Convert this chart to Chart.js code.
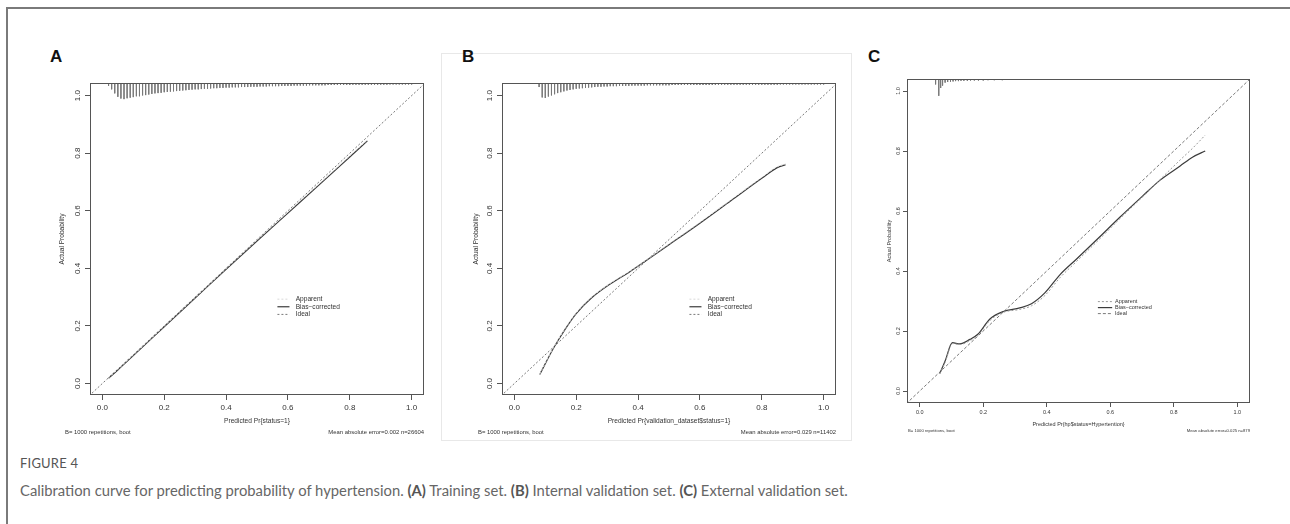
<!DOCTYPE html>
<html>
<head>
<meta charset="utf-8">
<script src="https://cdn.jsdelivr.net/npm/chart.js@4.4.1/dist/chart.umd.min.js"></script>
<style>
  html, body { margin: 0; padding: 0; background: #fff; }
  body { width: 1290px; height: 524px; position: relative; overflow: hidden; }
  #frame { position: absolute; left: 6px; top: 7px; width: 1300px; height: 540px; border: 2px solid #7a7a7a; box-sizing: border-box; }
  #boxB { position: absolute; left: 441px; top: 53px; width: 411px; height: 388px; border: 1px solid #e8e8e8; box-sizing: border-box; }
  canvas { position: absolute; }
  .letter { position: absolute; font: bold 17px "Liberation Sans", Arial, sans-serif; color: #111; }
  #fig { position: absolute; left: 20px; top: 455px; font: 13px Lato, sans-serif; color: #555; letter-spacing: 0.2px; }
  #cap { position: absolute; left: 20px; top: 481px; font: 14.8px Lato, sans-serif; color: #666; white-space: nowrap; }
  #cap b { color: #555; }
</style>
</head>
<body>
<div id="frame"></div>
<div id="boxB"></div>
<div class="letter" style="left:50px;top:47px">A</div>
<div class="letter" style="left:462px;top:47px">B</div>
<div class="letter" style="left:868px;top:47px">C</div>
<canvas id="cA" width="420" height="385" style="left:20px;top:60px"></canvas>
<canvas id="cB" width="405" height="385" style="left:445px;top:60px"></canvas>
<canvas id="cC" width="400" height="385" style="left:865px;top:60px"></canvas>
<div id="fig">FIGURE 4</div>
<div id="cap">Calibration curve for predicting probability of hypertension. <b>(A)</b> Training set. <b>(B)</b> Internal validation set. <b>(C)</b> External validation set.</div>

<script>
// axis ticks (both axes)
const tickVals = [0, 0.2, 0.4, 0.6, 0.8, 1.0];
const idealX = [-0.1, 1.1];

// A: training set
const aPredX = [0.02, 0.05, 0.10, 0.20, 0.30, 0.40, 0.50, 0.60, 0.70, 0.80, 0.857];
const aBias  = [0.018, 0.047, 0.097, 0.197, 0.297, 0.397, 0.495, 0.592, 0.689, 0.787, 0.843];
const aAppar = [0.020, 0.049, 0.099, 0.199, 0.299, 0.399, 0.498, 0.596, 0.693, 0.791, 0.846];
const aRugX = [0.02,0.03,0.04,0.05,0.06,0.07,0.08,0.09,0.10,0.11,0.12,0.13,0.14,0.15,0.16,0.17,0.18,0.19,0.20,
  0.21,0.22,0.23,0.24,0.25,0.26,0.27,0.28,0.29,0.30,0.31,0.32,0.33,0.34,0.35,0.36,0.37,0.38,0.39,0.40,
  0.41,0.42,0.43,0.44,0.45,0.46,0.47,0.48,0.49,0.50,0.51,0.52,0.53,0.54,0.55,0.56,0.57,0.58,0.59,0.60,
  0.61,0.62,0.63,0.64,0.65,0.66,0.67,0.68,0.69,0.70,0.71,0.72,0.73,0.74,0.75,0.76,0.77,0.78,0.79,0.80,
  0.81,0.82,0.83,0.84,0.85,0.86,0.87,0.88,0.89,0.90,0.91,0.92,0.93,0.94,0.95,0.96,0.97,0.98,0.99,1.00];
const aRugH = [0.010,0.022,0.036,0.048,0.054,0.056,0.053,0.051,0.049,0.046,0.046,0.043,0.042,0.040,0.038,0.036,0.035,0.034,0.032,
  0.031,0.030,0.029,0.028,0.027,0.026,0.025,0.024,0.023,0.022,0.022,0.021,0.020,0.020,0.019,0.018,0.018,0.017,0.017,0.016,
  0.016,0.015,0.015,0.015,0.014,0.014,0.014,0.013,0.013,0.013,0.012,0.012,0.012,0.011,0.011,0.011,0.011,0.010,0.010,0.010,
  0.010,0.009,0.009,0.009,0.009,0.009,0.008,0.008,0.008,0.008,0.008,0.008,0.007,0.007,0.007,0.007,0.007,0.007,0.007,0.007,
  0.006,0.006,0.006,0.006,0.006,0.006,0.006,0.006,0.006,0.006,0.006,0.006,0.005,0.005,0.005,0.005,0.005,0.005,0.005,0.005];

// B: internal validation set
const bPredX = [0.082, 0.125, 0.165, 0.20, 0.25, 0.31, 0.37, 0.43, 0.50, 0.60, 0.70, 0.80, 0.85, 0.877];
const bBias  = [0.031, 0.120, 0.190, 0.243, 0.298, 0.346, 0.386, 0.430, 0.482, 0.557, 0.635, 0.713, 0.750, 0.760];
const bAppar = [0.033, 0.122, 0.192, 0.245, 0.300, 0.348, 0.388, 0.432, 0.485, 0.560, 0.638, 0.716, 0.753, 0.763];
const bRugX = [0.08,0.09,0.10,0.11,0.12,0.13,0.14,0.15,0.16,0.17,0.18,0.19,0.20,
  0.21,0.22,0.23,0.24,0.25,0.26,0.27,0.28,0.29,0.30,0.31,0.32,0.33,0.34,0.35,0.36,0.37,0.38,0.39,0.40,
  0.41,0.42,0.43,0.44,0.45,0.46,0.47,0.48,0.49,0.50,0.51,0.52,0.53,0.54,0.55,0.56,0.57,0.58,0.59,0.60,
  0.61,0.62,0.63,0.64,0.65,0.66,0.67,0.68,0.69,0.70,0.71,0.72,0.73,0.74,0.75,0.76,0.77,0.78,0.79,0.80,
  0.81,0.82,0.83,0.84,0.85,0.86,0.87,0.88,0.89,0.90,0.91,0.92,0.93,0.94,0.95,0.96,0.97,0.98,0.99,1.00];
const bRugH = [0.014,0.050,0.052,0.047,0.043,0.039,0.035,0.032,0.029,0.026,0.024,0.022,0.020,
  0.019,0.018,0.017,0.016,0.015,0.014,0.013,0.013,0.012,0.012,0.011,0.011,0.011,0.010,0.010,0.010,0.010,0.009,0.009,0.009,
  0.009,0.009,0.008,0.008,0.008,0.008,0.008,0.008,0.008,0.008,0.007,0.007,0.007,0.007,0.007,0.007,0.007,0.007,0.007,0.007,
  0.007,0.007,0.007,0.007,0.007,0.006,0.006,0.006,0.006,0.006,0.006,0.006,0.006,0.006,0.006,0.006,0.006,0.006,0.006,0.006,
  0.006,0.006,0.006,0.006,0.006,0.005,0.005,0.005,0.005,0.005,0.005,0.005,0.005,0.005,0.005,0.005,0.005,0.005,0.005,0.005];

// C: external validation set
const cPredX = [0.063, 0.080, 0.103, 0.126, 0.158, 0.184, 0.221, 0.263, 0.315, 0.352, 0.394, 0.442, 0.494, 0.563, 0.631, 0.700, 0.757, 0.820, 0.860, 0.899];
const cBias  = [0.058, 0.100, 0.161, 0.157, 0.172, 0.190, 0.240, 0.265, 0.277, 0.291, 0.327, 0.388, 0.440, 0.510, 0.580, 0.648, 0.703, 0.750, 0.780, 0.800];
const cAppar = [0.058, 0.095, 0.158, 0.155, 0.168, 0.186, 0.235, 0.262, 0.272, 0.284, 0.318, 0.378, 0.432, 0.503, 0.575, 0.645, 0.705, 0.770, 0.810, 0.853];
const cRugX = [0.050, 0.060, 0.066, 0.072, 0.080, 0.088, 0.097, 0.105, 0.113, 0.122, 0.130, 0.139, 0.150, 0.160, 0.172, 0.185, 0.200, 0.215, 0.235, 0.260];
const cRugH = [0.018, 0.056, 0.030, 0.022, 0.012, 0.010, 0.009, 0.008, 0.007, 0.007, 0.006, 0.006, 0.006, 0.005, 0.005, 0.005, 0.005, 0.004, 0.004, 0.004];

const legendLabels = ['Apparent', 'Bias\u2212corrected', 'Ideal'];

// draws the R-style box, rotated y labels, legend and footnotes
const rPlot = {
  id: 'rPlot',
  afterDatasetsDraw(chart, args, o) {
    const { ctx, chartArea: a, scales: { x, y } } = chart;
    ctx.save();
    ctx.strokeStyle = '#555';
    ctx.lineWidth = 1;
    ctx.strokeRect(a.left + 0.5, a.top + 0.5, a.right - a.left - 1, a.bottom - a.top - 1);

    ctx.fillStyle = '#333';
    ctx.font = o.tickFont;
    ctx.textAlign = 'center';
    ctx.textBaseline = 'middle';
    y.ticks.forEach(t => {
      ctx.save();
      ctx.translate(a.left - o.yLabelGap, y.getPixelForValue(t.value));
      ctx.rotate(-Math.PI / 2);
      ctx.fillText(t.value.toFixed(1), 0, 0);
      ctx.restore();
    });

    // legend
    const lx0 = x.getPixelForValue(o.legX0), lx1 = x.getPixelForValue(o.legX1);
    const tx = x.getPixelForValue(o.legTextX);
    let ly = y.getPixelForValue(o.legY);
    ctx.font = o.legFont;
    ctx.textAlign = 'left';
    [0, 1, 2].forEach(i => {
      const ds = chart.data.datasets[i];
      ctx.beginPath();
      ctx.setLineDash(ds.borderDash || []);
      ctx.strokeStyle = ds.borderColor;
      ctx.lineWidth = ds.borderWidth;
      ctx.moveTo(lx0, ly);
      ctx.lineTo(lx1, ly);
      ctx.stroke();
      ctx.fillStyle = '#333';
      ctx.fillText(legendLabels[i], tx, ly);
      ly += o.legStep;
    });
    ctx.setLineDash([]);

    // footnotes
    ctx.font = o.noteFont;
    ctx.fillStyle = '#333';
    ctx.textAlign = 'left';
    ctx.fillText(o.noteLeft, o.noteLeftX, o.noteY);
    ctx.textAlign = 'right';
    ctx.fillText(o.noteRight, a.right, o.noteY);
    ctx.restore();
  }
};

function pts(xs, ys) {
  return xs.map((v, i) => ({ x: v, y: ys[i] }));
}

function rug(xs, hs, top) {
  const out = [];
  xs.forEach((v, i) => {
    out.push({ x: v, y: top }, { x: v, y: top - hs[i] }, { x: v, y: null });
  });
  return out;
}

function makePanel(id, p) {
  const lh = p.titleSize * 1.2;
  const padLeft = p.area.left - p.canvas.left - p.yW;
  const xH = p.xTitleY + lh / 2 - p.area.bottom;
  const padBottom = p.canvas.top + p.canvas.height - p.area.bottom - xH;
  const yTitlePad = (p.yTitleX - p.canvas.left - padLeft) - lh / 2;
  const font = { family: 'Liberation Sans', size: p.titleSize };

  new Chart(document.getElementById(id), {
    type: 'scatter',
    data: {
      datasets: [
        { data: pts(p.predX, p.appar), showLine: true, borderColor: p.apparColor, borderWidth: 1, borderDash: [2, 2], pointRadius: 0, cubicInterpolationMode: 'monotone' },
        { data: pts(p.predX, p.bias), showLine: true, borderColor: '#3c3c3c', borderWidth: 1.2, pointRadius: 0, cubicInterpolationMode: 'monotone' },
        { data: pts(idealX, idealX), showLine: true, borderColor: '#6a6a6a', borderWidth: 0.9, borderDash: p.idealDash, pointRadius: 0 },
        { data: rug(p.rugX, p.rugH, p.yMax), showLine: true, spanGaps: false, borderColor: '#777', borderWidth: 0.9, pointRadius: 0 }
      ]
    },
    options: {
      responsive: false,
      animation: false,
      devicePixelRatio: 1,
      layout: {
        padding: {
          left: padLeft,
          top: p.area.top - p.canvas.top,
          right: p.canvas.left + p.canvas.width - p.area.right,
          bottom: padBottom
        }
      },
      plugins: {
        legend: { display: false },
        tooltip: { enabled: false },
        rPlot: p.plot
      },
      scales: {
        x: {
          type: 'linear', min: p.xMin, max: p.xMax,
          afterBuildTicks: s => { s.ticks = tickVals.map(v => ({ value: v })); },
          afterFit: s => { s.height = xH; },
          ticks: { callback: v => v.toFixed(1), color: '#333', font: { family: 'Liberation Sans', size: p.tickSize }, padding: p.tickPad, maxRotation: 0, autoSkip: false },
          grid: { drawOnChartArea: false, drawTicks: true, tickLength: p.tickLen, color: '#555' },
          border: { display: false },
          title: { display: true, text: p.xTitle, color: '#333', font: font, padding: { top: 0, bottom: 0 } }
        },
        y: {
          type: 'linear', min: p.yMin, max: p.yMax,
          afterBuildTicks: s => { s.ticks = tickVals.map(v => ({ value: v })); },
          afterFit: s => { s.width = p.yW; },
          ticks: { display: false },
          grid: { drawOnChartArea: false, drawTicks: true, tickLength: p.tickLen, color: '#555' },
          border: { display: false },
          title: { display: true, text: 'Actual Probability', color: '#333', font: font, padding: { top: yTitlePad, bottom: 0 } }
        }
      }
    },
    plugins: [rPlot]
  });
}

makePanel('cA', {
  canvas: { left: 20, top: 60, width: 420, height: 385 },
  area: { left: 90, top: 83, right: 424, bottom: 395 },
  xMin: -0.04, xMax: 1.04, yMin: -0.04, yMax: 1.044,
  yW: 40, tickLen: 5, tickPad: 3, tickSize: 8, titleSize: 6.6,
  xTitle: 'Predicted Pr{status=1}', xTitleY: 421, yTitleX: 62,
  predX: aPredX, bias: aBias, appar: aAppar, apparColor: '#d8d8d8',
  rugX: aRugX, rugH: aRugH, idealDash: [2, 2],
  plot: {
    tickFont: '8px "Liberation Sans"', yLabelGap: 12,
    legX0: 0.566, legX1: 0.605, legTextX: 0.625, legY: 0.293, legStep: 7.6, legFont: '6.6px "Liberation Sans"',
    noteFont: '5.9px "Liberation Sans"', noteLeft: 'B= 1000 repetitions, boot', noteLeftX: 45, noteRight: 'Mean absolute error=0.002 n=26604', noteY: 372
  }
});

makePanel('cB', {
  canvas: { left: 445, top: 60, width: 405, height: 385 },
  area: { left: 502, top: 83, right: 836, bottom: 395 },
  xMin: -0.04, xMax: 1.04, yMin: -0.04, yMax: 1.044,
  yW: 40, tickLen: 5, tickPad: 3, tickSize: 8, titleSize: 6.6,
  xTitle: 'Predicted Pr{validation_dataset$status=1}', xTitleY: 421, yTitleX: 476,
  predX: bPredX, bias: bBias, appar: bAppar, apparColor: '#d8d8d8',
  rugX: bRugX, rugH: bRugH, idealDash: [2, 2],
  plot: {
    tickFont: '8px "Liberation Sans"', yLabelGap: 12,
    legX0: 0.566, legX1: 0.605, legTextX: 0.625, legY: 0.293, legStep: 7.6, legFont: '6.6px "Liberation Sans"',
    noteFont: '5.9px "Liberation Sans"', noteLeft: 'B= 1000 repetitions, boot', noteLeftX: 33, noteRight: 'Mean absolute error=0.029 n=11402', noteY: 372
  }
});

makePanel('cC', {
  canvas: { left: 865, top: 60, width: 400, height: 385 },
  area: { left: 907, top: 79, right: 1250, bottom: 403 },
  xMin: -0.04, xMax: 1.04, yMin: -0.04, yMax: 1.04,
  yW: 30, tickLen: 4, tickPad: 2, tickSize: 5.5, titleSize: 5.5,
  xTitle: 'Predicted Pr{hp$status=Hypertention}', xTitleY: 424, yTitleX: 889,
  predX: cPredX, bias: cBias, appar: cAppar, apparColor: '#9a9a9a',
  rugX: cRugX, rugH: cRugH, idealDash: [3, 2],
  plot: {
    tickFont: '5.5px "Liberation Sans"', yLabelGap: 9,
    legX0: 0.561, legX1: 0.606, legTextX: 0.615, legY: 0.298, legStep: 6, legFont: '5.5px "Liberation Sans"',
    noteFont: '4.2px "Liberation Sans"', noteLeft: 'B= 1000 repetitions, boot', noteLeftX: 43, noteRight: 'Mean absolute error=0.025 n=879', noteY: 371
  }
});
</script>
</body>
</html>
